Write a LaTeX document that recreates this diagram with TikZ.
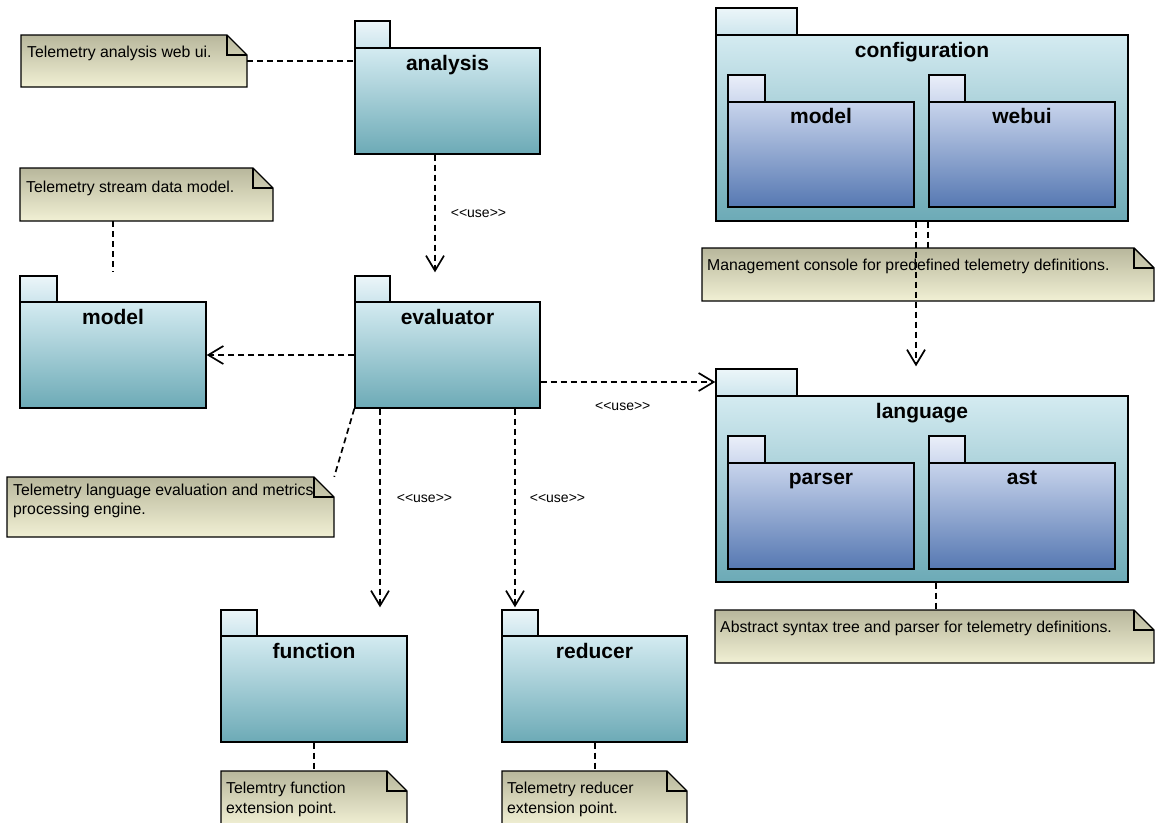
\documentclass[tikz,border=0pt]{standalone}
\usepackage{fontspec}
\setmainfont{Liberation Sans}
\usetikzlibrary{arrows.meta,fit}

\definecolor{pkgtop}{RGB}{212,235,241}
\definecolor{pkgbot}{RGB}{108,170,182}
\definecolor{tabtop}{RGB}{236,246,249}
\definecolor{tabbot}{RGB}{205,229,237}
\definecolor{subtop}{RGB}{200,212,236}
\definecolor{subbot}{RGB}{86,120,178}
\definecolor{subtabtop}{RGB}{234,239,249}
\definecolor{subtabbot}{RGB}{206,216,238}
\definecolor{notetop}{RGB}{184,183,156}
\definecolor{notebot}{RGB}{241,240,212}

\tikzset{
  pkgbody/.style={draw=black, line width=1.4pt, top color=pkgtop, bottom color=pkgbot, inner sep=0pt},
  pkgtab/.style={draw=black, line width=1.4pt, top color=tabtop, bottom color=tabbot, inner sep=0pt},
  subbody/.style={pkgbody, top color=subtop, bottom color=subbot},
  subtab/.style={pkgtab, top color=subtabtop, bottom color=subtabbot},
  pkglabel/.style={font=\fontsize{21}{25}\selectfont\bfseries, anchor=base, inner sep=0pt},
  notefill/.style={draw=black, line width=1.4pt, top color=notetop, bottom color=notebot},
  noteline/.style={draw=black, line width=1.4pt},
  notetext/.style={font=\fontsize{15.8}{20}\selectfont, anchor=base west, inner sep=0pt, align=left},
  uselabel/.style={font=\fontsize{14}{16}\selectfont, inner sep=0pt},
  dep/.style={line width=1.7pt, dash pattern=on 6pt off 4pt,
    -{Straight Barb[length=15pt,width=18pt,line width=1.7pt]}},
  noteanchor/.style={line width=1.7pt, dash pattern=on 6pt off 4pt},
}

% package: name, left, tab top, body top, right, bottom, tab right, style prefix
\newcommand\umlpackage[8]{%
  \node[#8tab, fit={(#2,#3) (#7,#4)}] (#1-tab) {};
  \node[#8body, fit={(#2,#4) (#5,#6)}] (#1) {};
}
% note with folded corner: name, left, top, right, bottom
\newcommand\umlnote[5]{%
  \path[notefill] (#2,#3) -- ({#4-20},#3) -- (#4,{#3+20}) -- (#4,#5) -- (#2,#5) -- cycle;
  \draw[noteline] ({#4-20},#3) -- ({#4-20},{#3+20}) -- (#4,{#3+20});
  \node[fit={(#2,#3) (#4,#5)}, inner sep=0pt] (#1) {};
}
% stereotype text, without the guillemet ligature
\newcommand\usestereo{<{}<use>{}>}

\begin{document}
\begin{tikzpicture}[x=1pt,y=-1pt]
\useasboundingbox (0,0) rectangle (1155,822);
\clip (0,0) rectangle (1155,822);

% notes (text anchors sit on the baseline of the last line)
\umlnote{n-analysis}{21}{35}{247}{87}
\node[notetext] at (27,57) {Telemetry analysis web ui.};
\umlnote{n-model}{20}{168}{273}{221}
\node[notetext] at (26,192) {Telemetry stream data model.};
\umlnote{n-eval}{7}{477}{334}{537}
\node[notetext, font=\fontsize{15.8}{19}\selectfont] at (13,514) {Telemetry language evaluation and metrics\\processing engine.};
\umlnote{n-config}{702}{248}{1154}{301}
\node[notetext] at (707,270) {Management console for predefined telemetry definitions.};
\umlnote{n-lang}{715}{610}{1154}{663}
\node[notetext] at (720,632) {Abstract syntax tree and parser for telemetry definitions.};
\umlnote{n-func}{221}{771}{407}{826}
\node[notetext] at (226,813) {Telemtry function\\extension point.};
\umlnote{n-reducer}{502}{771}{687}{826}
\node[notetext] at (507,813) {Telemetry reducer\\extension point.};

% packages
\umlpackage{analysis}{355}{21}{48}{540}{154}{390}{pkg}
\node[pkglabel] (analysis-name) at ([yshift=-23pt]analysis.north) {analysis};
\umlpackage{model}{20}{276}{302}{206}{408}{57}{pkg}
\node[pkglabel] (model-name) at ([yshift=-23pt]model.north) {model};
\umlpackage{evaluator}{355}{276}{302}{540}{408}{390}{pkg}
\node[pkglabel] (evaluator-name) at ([yshift=-23pt]evaluator.north) {evaluator};
\umlpackage{function}{221}{610}{636}{407}{742}{257}{pkg}
\node[pkglabel] (function-name) at ([yshift=-23pt]function.north) {function};
\umlpackage{reducer}{502}{610}{636}{687}{742}{538}{pkg}
\node[pkglabel] (reducer-name) at ([yshift=-23pt]reducer.north) {reducer};

\umlpackage{configuration}{716}{8}{35}{1128}{221}{797}{pkg}
\node[pkglabel] (configuration-name) at ([yshift=-23pt]configuration.north) {configuration};
\umlpackage{cmodel}{728}{75}{102}{914}{207}{765}{sub}
\node[pkglabel] (cmodel-name) at ([yshift=-22pt]cmodel.north) {model};
\umlpackage{webui}{929}{75}{102}{1115}{207}{965}{sub}
\node[pkglabel] (webui-name) at ([yshift=-22pt]webui.north) {webui};

\umlpackage{language}{716}{369}{396}{1128}{582}{797}{pkg}
\node[pkglabel] (language-name) at ([yshift=-23pt]language.north) {language};
\umlpackage{parser}{728}{436}{463}{914}{569}{765}{sub}
\node[pkglabel] (parser-name) at ([yshift=-22pt]parser.north) {parser};
\umlpackage{ast}{929}{436}{463}{1115}{569}{965}{sub}
\node[pkglabel] (ast-name) at ([yshift=-22pt]ast.north) {ast};

% note anchors
\draw[noteanchor] (n-analysis.east) -- (n-analysis.east -| analysis.west);
\draw[noteanchor] (model.north |- n-model.south) -- ([yshift=30pt]model.north);
\draw[noteanchor] (evaluator.south west) -- (n-eval.north east);
\draw[noteanchor] ([xshift=6pt]configuration.south) -- ([xshift=6pt]configuration.south |- n-config.north);
\draw[noteanchor] ([xshift=14pt]language.south) -- ([xshift=14pt]language.south |- n-lang.north);
\draw[noteanchor] (function.south) -- (function.south |- n-func.north);
\draw[noteanchor] ([xshift=0.5pt]reducer.south) -- ([xshift=0.5pt]reducer.south |- n-reducer.north);

% dependencies
\draw[dep] ([xshift=-12.5pt]analysis.south) -- ([xshift=-12.5pt,yshift=3pt]analysis.south |- evaluator-tab.north)
  node[uselabel, pos=0.5, anchor=west, xshift=15pt] {\usestereo};
\draw[dep] (evaluator.west) -- (model.east);
\draw[dep] ([yshift=0.5pt]evaluator.east |- language-tab.west) -- ([yshift=0.5pt]language-tab.west)
  node[uselabel, pos=0.47, below=19pt] {\usestereo};
\draw[dep] ([xshift=-67.5pt]evaluator.south) -- ([xshift=-67.5pt,yshift=2pt]evaluator.south |- function-tab.north)
  node[uselabel, pos=0.45, anchor=west, xshift=16pt] {\usestereo};
\draw[dep] ([xshift=67.5pt]evaluator.south) -- ([xshift=67.5pt,yshift=2pt]evaluator.south |- reducer-tab.north)
  node[uselabel, pos=0.45, anchor=west, xshift=14pt] {\usestereo};
\draw[dep] ([xshift=-6pt]configuration.south) -- ([xshift=-6pt,yshift=2pt]configuration.south |- language-tab.north);
\end{tikzpicture}
\end{document}
